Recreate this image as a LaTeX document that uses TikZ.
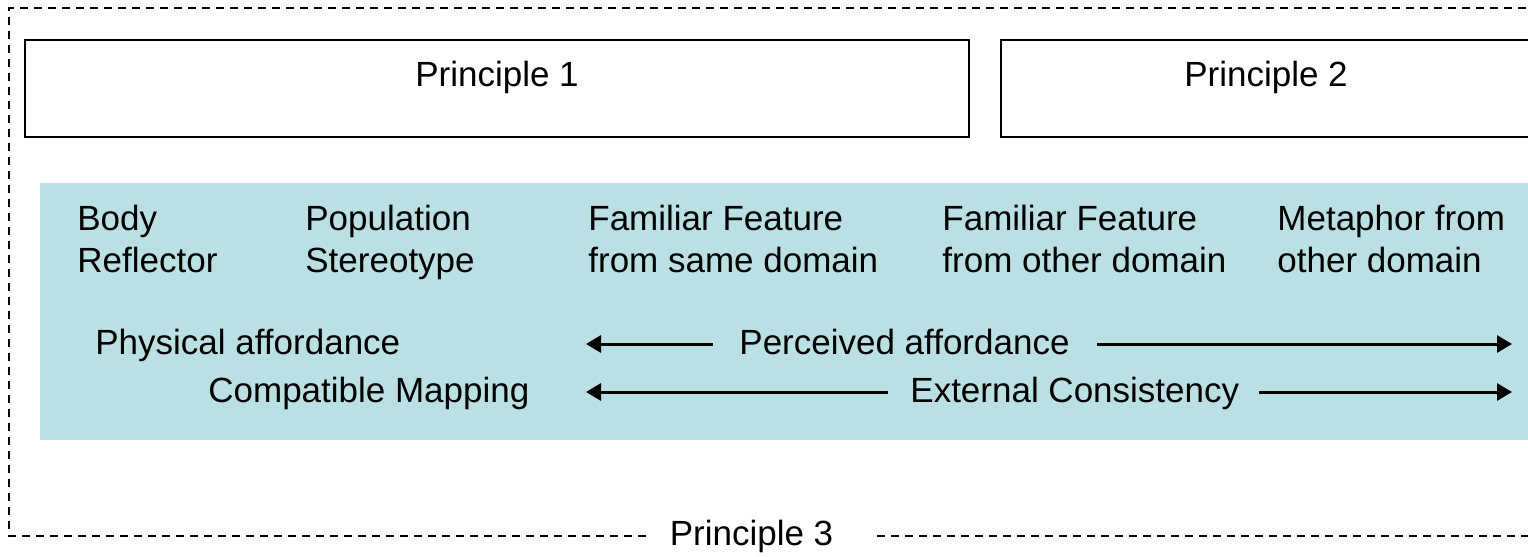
\documentclass[tikz,border=0pt]{standalone}
\usepackage{fontspec}
\setmainfont{Liberation Sans}
\usetikzlibrary{arrows.meta}
\definecolor{panelteal}{RGB}{187,224,227}
\begin{document}
\begin{tikzpicture}[x=0.5pt,y=-0.5pt,
  txt/.style={inner sep=0pt, anchor=base west, align=left,
    font=\fontsize{17.5}{21}\selectfont},
  pbox/.style={draw=black, line width=1.35pt},
  frame/.style={draw=black, line width=1.1pt, dash pattern=on 4pt off 3pt},
  arr/.style={-{Triangle[length=7.5pt,width=8.5pt]}, line width=1.5pt}]
\clip (0,0) rectangle (1528,557);
\fill[white] (0,0) rectangle (1528,557);

% principle boxes
\draw[pbox] (25,40) rectangle (969,137);
\node[txt, anchor=base] (p1) at (497,86) {Principle 1};
\draw[pbox] (1001,40) rectangle (1560,137);
\node[txt, anchor=base] (p2) at (1266,86) {Principle 2};

% shaded panel
\fill[panelteal] (40,183) rectangle (1560,440);

% column headings (anchored at the baseline of their second line)
\node[txt] (c1) at (77,272)   {Body\\Reflector};
\node[txt] (c2) at (305,272)  {Population\\Stereotype};
\node[txt] (c3) at (588,272)  {Familiar Feature\\from same domain};
\node[txt] (c4) at (942,272)  {Familiar Feature\\from other domain};
\node[txt] (c5) at (1277,272) {Metaphor from\\other domain};

% affordance and mapping rows
\node[txt] (phys) at (95,354)  {Physical affordance};
\node[txt] (perc) at (739,354) {Perceived affordance};
\node[txt] (comp) at (208,402) {Compatible Mapping};
\node[txt] (ext)  at (910,402) {External Consistency};

\coordinate (a1l) at (586,344);
\coordinate (a1r) at (1512,344);
\coordinate (a2l) at (586,392);
\coordinate (a2r) at (1512,392);
\draw[arr, shorten <=13pt]   (perc.west |- a1l) -- (a1l);
\draw[arr, shorten <=13.5pt] (perc.east |- a1r) -- (a1r);
\draw[arr, shorten <=11pt]   (ext.west |- a2l) -- (a2l);
\draw[arr, shorten <=9.5pt]  (ext.east |- a2r) -- (a2r);

% dashed outer frame, open at the right, broken by its label
\node[txt, anchor=base] (p3) at (751.5,545) {Principle 3};
\coordinate (fl) at (647,536);
\coordinate (fr) at (877,536);
\draw[frame] (1540,8) -- (9,8) -- (9,536) -- (fl);
\draw[frame] (fr) -- (1540,536);
\end{tikzpicture}
\end{document}
